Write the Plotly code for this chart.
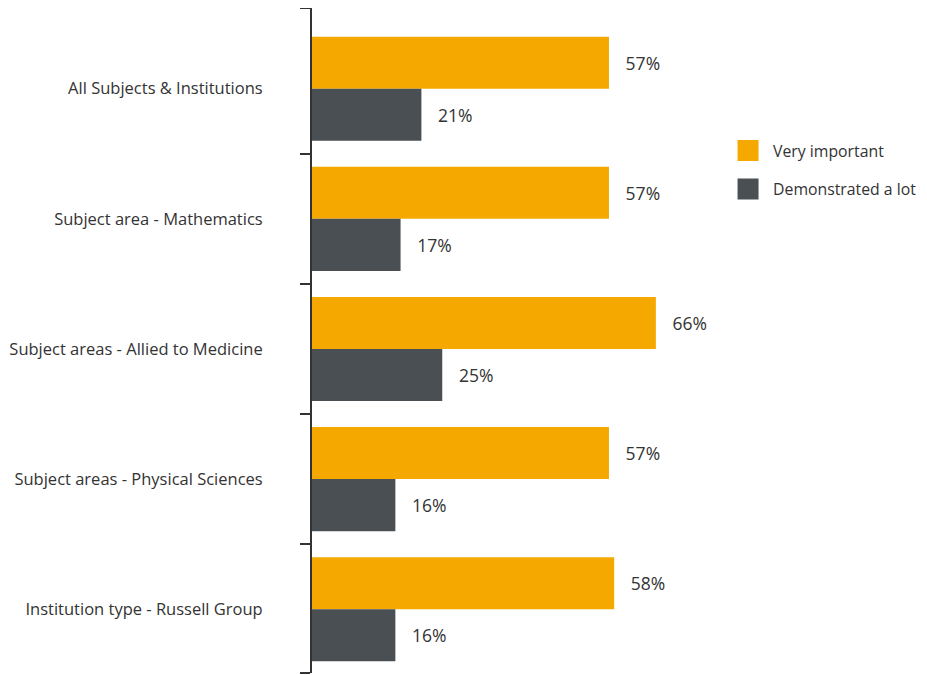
import plotly.graph_objects as go

categories = ["All Subjects & Institutions", "Subject area - Mathematics",
              "Subject areas - Allied to Medicine", "Subject areas - Physical Sciences",
              "Institution type - Russell Group"]
very_important = [57, 57, 66, 57, 58]
demonstrated = [21, 17, 25, 16, 16]

ORANGE = "#F5A800"
GRAY = "#4A4F54"
positions = list(range(len(categories)))

fig = go.Figure()
fig.add_trace(go.Bar(y=positions, x=very_important, orientation="h", name="Very important",
                     marker=dict(color=ORANGE, line=dict(width=0)),
                     text=[f"{v}%" for v in very_important], texttemplate="   %{text}",
                     textposition="outside", cliponaxis=False, showlegend=False,
                     textfont=dict(size=17.5, color="#333333")))
fig.add_trace(go.Bar(y=positions, x=demonstrated, orientation="h", name="Demonstrated a lot",
                     marker=dict(color=GRAY, line=dict(width=0)),
                     text=[f"{v}%" for v in demonstrated], texttemplate="   %{text}",
                     textposition="outside", cliponaxis=False, showlegend=False,
                     textfont=dict(size=17.5, color="#333333")))
# legend entries with larger square symbols
for i, (name, col) in enumerate([("Very important", ORANGE), ("Demonstrated a lot", GRAY)]):
    fig.add_trace(go.Scatter(x=[None], y=[None], mode="markers", name=name,
                             legendgroup=f"g{i}",
                             marker=dict(symbol="square", size=16, color=col,
                                         line=dict(color=col, width=5))))

fig.update_layout(
    width=919, height=667,
    margin=dict(l=304, r=206, t=0, b=2, autoexpand=False),
    paper_bgcolor="white", plot_bgcolor="white",
    font=dict(family="Open Sans", size=16.5, color="#333333"),
    barmode="group", bargap=0.2, bargroupgap=0,
    legend=dict(x=1.005, y=0.811, xanchor="left", yanchor="top",
                font=dict(size=15.8, color="#333333"), tracegroupgap=15,
                itemsizing="trace", itemwidth=40, bgcolor="rgba(0,0,0,0)"),
    xaxis=dict(range=[0, 78.5], visible=False, automargin=False),
    yaxis=dict(range=[4.49, -0.62], tickmode="array", tickvals=positions, ticktext=categories,
               ticks="", showgrid=False, zeroline=False, showline=True, automargin=False,
               linecolor="#333333", linewidth=2, ticklabelstandoff=44,
               minor=dict(tickmode="array", tickvals=[-0.62, 0.5, 1.5, 2.5, 3.5, 4.49],
                          ticks="outside", ticklen=10, tickwidth=2, tickcolor="#333333",
                          showgrid=False)),
)
fig.write_html("out.html")
